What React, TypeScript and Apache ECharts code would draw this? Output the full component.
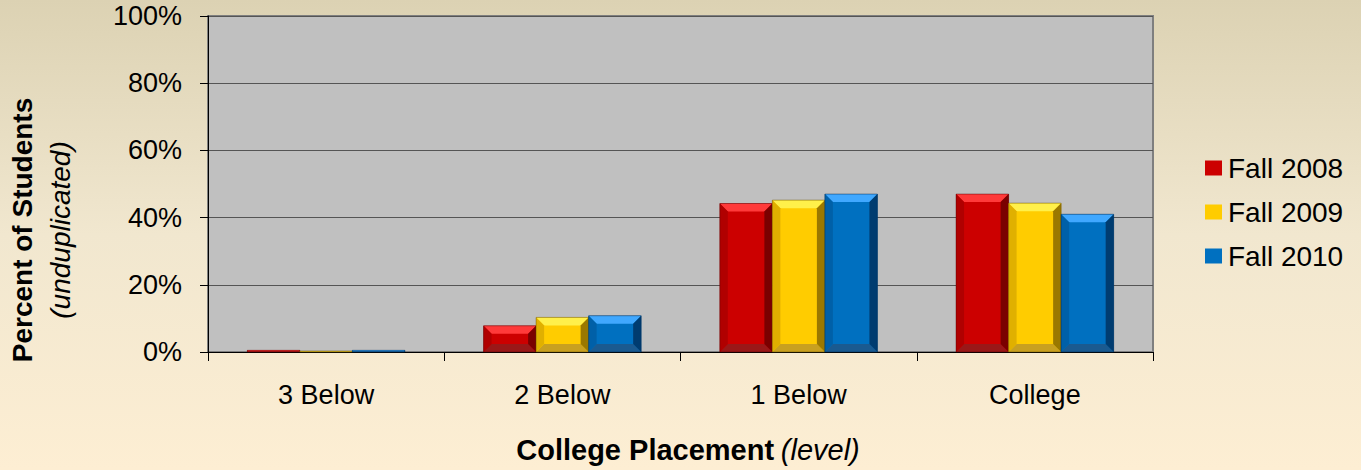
import React, { useEffect, useRef } from "react";
import * as echarts from "echarts";

const categories = ["3 Below", "2 Below", "1 Below", "College"];
const seriesNames = ["Fall 2008", "Fall 2009", "Fall 2010"];
const fall2008 = [0.5, 7.8, 44.2, 47.0];
const fall2009 = [0.3, 10.3, 45.2, 44.3];
const fall2010 = [0.5, 10.8, 47.0, 41.0];
const yTicks = [0, 20, 40, 60, 80, 100];

const palettes = [
  { main: "#cc0000", light: "#ff3a3a", left: "#b00000", right: "#7a0000", bottom: "#9a1818", edge: "#5a0000" },
  { main: "#ffcc00", light: "#fff04a", left: "#e0b000", right: "#9a7800", bottom: "#c8a020", edge: "#6a5200" },
  { main: "#0070c0", light: "#40a8ff", left: "#0060a8", right: "#003c70", bottom: "#1a5a90", edge: "#002a50" },
];

const FONT = "'Liberation Sans', Arial, sans-serif";

export default function App() {
  const ref = useRef<HTMLDivElement>(null);
  useEffect(() => {
    document.body.style.margin = "0";
    const chart = echarts.init(ref.current!, null, { renderer: "svg" });
    const allData = [fall2008, fall2009, fall2010];
    const gapRatio = 0.333;

    const series = allData.map((vals, sIdx) => {
      const p = palettes[sIdx];
      return {
        type: "custom",
        name: seriesNames[sIdx],
        itemStyle: { color: p.main },
        encode: { x: 0, y: 1 },
        data: vals.map((v, i) => [i, v]),
        renderItem: (params: any, api: any) => {
          const ci = api.value(0);
          const val = api.value(1);
          const base = api.coord([ci, 0]);
          const top = api.coord([ci, val]);
          const bandW = api.size([1, 0])[0];
          const bw = (bandW * (1 - gapRatio)) / 3;
          const x0 = base[0] - 1.5 * bw + sIdx * bw;
          const x1 = x0 + bw;
          const yt = top[1];
          const yb = base[1];
          const h = yb - yt;
          const b = Math.max(0, Math.min(8, h / 2, bw / 4));
          return {
            type: "group",
            children: [
              { type: "rect", shape: { x: x0, y: yt, width: bw, height: h }, style: { fill: p.main } },
              { type: "polygon", shape: { points: [[x0, yt], [x1, yt], [x1 - b, yt + b], [x0 + b, yt + b]] }, style: { fill: p.light } },
              { type: "polygon", shape: { points: [[x0, yb], [x1, yb], [x1 - b, yb - b], [x0 + b, yb - b]] }, style: { fill: p.bottom } },
              { type: "polygon", shape: { points: [[x0, yt], [x0 + b, yt + b], [x0 + b, yb - b], [x0, yb]] }, style: { fill: p.left } },
              { type: "polygon", shape: { points: [[x1, yt], [x1 - b, yt + b], [x1 - b, yb - b], [x1, yb]] }, style: { fill: p.right } },
              { type: "rect", shape: { x: x0, y: yt, width: bw, height: h }, style: { fill: "none", stroke: p.edge, lineWidth: 0.8, opacity: 0.6 } },
            ],
          };
        },
      };
    });

    chart.setOption({
      animation: false,
      backgroundColor: {
        type: "linear", x: 0, y: 0, x2: 0, y2: 1,
        colorStops: [
          { offset: 0, color: "#dcd2b3" },
          { offset: 0.5, color: "#f1e7cf" },
          { offset: 1, color: "#fdeed3" },
        ],
      },
      grid: {
        left: 208, right: 208, top: 16, bottom: 118,
        show: true, backgroundColor: "#c0c0c0", borderColor: "#7f7f7f", borderWidth: 2,
      },
      legend: {
        orient: "vertical",
        left: 1200,
        top: 149,
        itemGap: 16,
        itemWidth: 17,
        itemHeight: 15,
        icon: "rect",
        data: seriesNames,
        textStyle: { fontFamily: FONT, fontSize: 28, color: "#000", padding: [0, 0, 0, 1] },
      },
      xAxis: {
        type: "category",
        data: categories,
        axisLine: { lineStyle: { color: "#000", width: 1 } },
        axisTick: { show: true, length: 9, lineStyle: { color: "#000" } },
        axisLabel: { fontFamily: FONT, fontSize: 27, color: "#000", margin: 29 },
        splitLine: { show: false },
      },
      yAxis: {
        type: "value",
        min: yTicks[0],
        max: yTicks[yTicks.length - 1],
        interval: 20,
        axisLine: { show: true, lineStyle: { color: "#000", width: 1 } },
        axisTick: { show: true, length: 8, lineStyle: { color: "#000" } },
        axisLabel: { fontFamily: FONT, fontSize: 27, color: "#000", margin: 26, formatter: "{value}%" },
        splitLine: { show: true, lineStyle: { color: "#555", width: 1 } },
      },
      graphic: [
        {
          type: "text",
          x: 22, y: 230, rotation: Math.PI / 2,
          style: { text: "Percent of Students", font: `bold 28px ${FONT}`, fill: "#000", align: "center", verticalAlign: "middle" },
        },
        {
          type: "text",
          x: 60, y: 230, rotation: Math.PI / 2,
          style: { text: "(unduplicated)", font: `italic 28px ${FONT}`, fill: "#000", align: "center", verticalAlign: "middle" },
        },
        {
          type: "text",
          x: 688, y: 450,
          style: {
            text: "{b|College Placement}  {i|(level)}",
            align: "center", verticalAlign: "middle",
            rich: {
              b: { fontFamily: FONT, fontWeight: "bold", fontSize: 29, fill: "#000" },
              i: { fontFamily: FONT, fontStyle: "italic", fontSize: 29, fill: "#000" },
            },
          },
        },
      ],
      series,
    });
    return () => chart.dispose();
  }, []);
  return <div ref={ref} style={{ width: 1361, height: 470 }} />;
}
